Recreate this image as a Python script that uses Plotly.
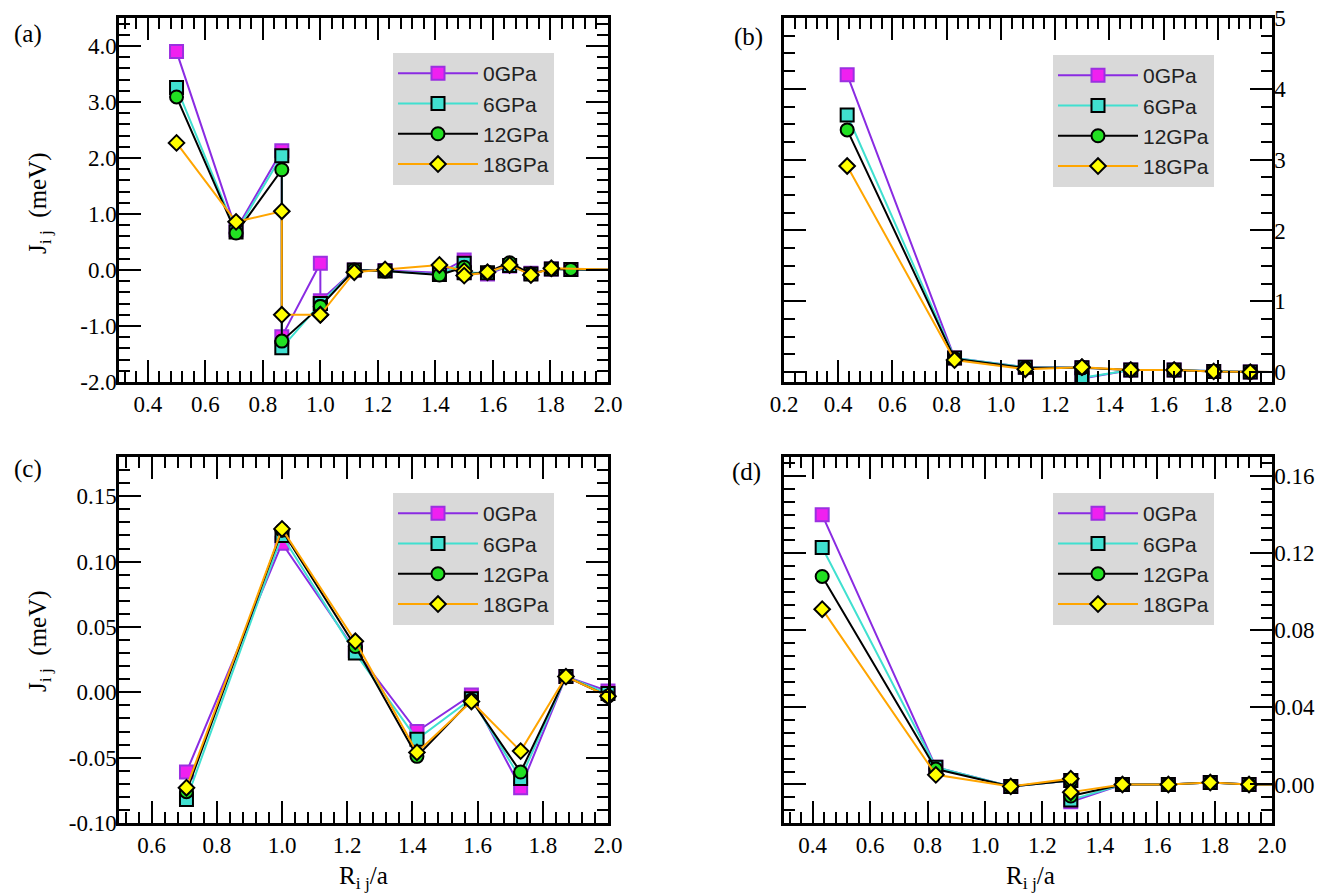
import plotly.graph_objects as go

W, H = 1331, 894

series_names = ["0GPa", "6GPa", "12GPa", "18GPa"]

# ---------------- data ----------------
# panel (a)
xa = [0.5, 0.707, 0.866, 0.866, 1.0, 1.0, 1.118, 1.225, 1.414, 1.5, 1.5,
      1.581, 1.658, 1.732, 1.803, 1.871, 2.06]
a_0GPa = [3.90, 0.72, 2.13, -1.19, 0.12, -0.55, 0.00, -0.01, -0.05, 0.18, -0.04,
          -0.07, 0.07, -0.06, 0.02, 0.01, 0.0]
a_6GPa = [3.26, 0.68, 2.04, -1.39, -0.60, -0.60, 0.00, -0.02, -0.08, 0.12, -0.05,
          -0.05, 0.08, -0.07, 0.02, 0.01, 0.0]
a_12GPa = [3.09, 0.66, 1.79, -1.27, -0.65, -0.65, 0.00, -0.02, -0.09, 0.05, -0.08,
           -0.04, 0.13, -0.07, 0.02, 0.01, 0.0]
a_18GPa = [2.27, 0.86, 1.05, -0.80, -0.80, -0.80, -0.04, 0.01, 0.09, -0.02, -0.10,
           -0.04, 0.09, -0.09, 0.03, None, 0.0]

# panel (b)
xb = [0.433, 0.829, 1.090, 1.299, 1.299, 1.479, 1.639, 1.785, 1.920, 2.06]
b_0GPa = [4.20, 0.20, 0.07, 0.06, -0.09, 0.03, 0.03, 0.01, 0.00, 0.0]
b_6GPa = [3.63, 0.20, 0.07, 0.06, -0.08, 0.03, 0.03, 0.01, 0.00, 0.0]
b_12GPa = [3.42, 0.19, 0.06, 0.06, 0.06, 0.03, 0.03, 0.01, 0.00, 0.0]
b_18GPa = [2.91, 0.17, 0.04, 0.07, 0.07, 0.03, 0.03, 0.01, 0.00, 0.0]

# panel (c)
xc = [0.707, 1.0, 1.225, 1.414, 1.581, 1.732, 1.871, 2.0]
c_0GPa = [-0.061, 0.114, 0.032, -0.030, -0.002, -0.073, 0.012, 0.001]
c_6GPa = [-0.082, 0.120, 0.030, -0.036, -0.005, -0.066, 0.012, -0.001]
c_12GPa = [-0.076, 0.124, 0.035, -0.049, -0.006, -0.061, 0.012, -0.003]
c_18GPa = [-0.073, 0.125, 0.039, -0.046, -0.007, -0.045, 0.012, -0.003]

# panel (d)
xd = [0.433, 0.829, 1.090, 1.299, 1.299, 1.479, 1.639, 1.785, 1.920, 2.06]
d_0GPa = [0.140, 0.009, -0.001, 0.002, -0.009, 0.000, 0.000, 0.001, 0.000, 0.0]
d_6GPa = [0.123, 0.009, -0.001, 0.002, -0.008, 0.000, 0.000, 0.001, 0.000, 0.0]
d_12GPa = [0.108, 0.008, -0.001, 0.002, -0.006, 0.000, 0.000, 0.001, 0.000, 0.0]
d_18GPa = [0.091, 0.005, -0.001, 0.003, -0.004, 0.000, 0.000, 0.001, 0.000, 0.0]

# tick labels
xa_tickvals = [0.4, 0.6, 0.8, 1.0, 1.2, 1.4, 1.6, 1.8, 2.0]
xa_ticktext = ["0.4", "0.6", "0.8", "1.0", "1.2", "1.4", "1.6", "1.8", "2.0"]
ya_tickvals = [-2, -1, 0, 1, 2, 3, 4]
ya_ticktext = ["-2.0", "-1.0", "0.0", "1.0", "2.0", "3.0", "4.0"]
xb_tickvals = [0.2, 0.4, 0.6, 0.8, 1.0, 1.2, 1.4, 1.6, 1.8, 2.0]
xb_ticktext = ["0.2", "0.4", "0.6", "0.8", "1.0", "1.2", "1.4", "1.6", "1.8", "2.0"]
yb_tickvals = [0, 1, 2, 3, 4, 5]
yb_ticktext = ["0", "1", "2", "3", "4", "5"]
xc_tickvals = [0.6, 0.8, 1.0, 1.2, 1.4, 1.6, 1.8, 2.0]
xc_ticktext = ["0.6", "0.8", "1.0", "1.2", "1.4", "1.6", "1.8", "2.0"]
yc_tickvals = [-0.10, -0.05, 0.0, 0.05, 0.10, 0.15]
yc_ticktext = ["-0.10", "-0.05", "0.00", "0.05", "0.10", "0.15"]
xd_tickvals = xa_tickvals
xd_ticktext = xa_ticktext
yd_tickvals = [0.0, 0.04, 0.08, 0.12, 0.16]
yd_ticktext = ["0.00", "0.04", "0.08", "0.12", "0.16"]

# ---------------- styles ----------------
line_colors = ["#8a2be2", "#40e0d0", "#000000", "#ffa500"]
fill_colors = ["#f020f0", "#40e0d0", "#22e022", "#ffff00"]
edge_colors = ["#9b30e0", "#000000", "#000000", "#000000"]
symbols = ["square", "square", "circle", "diamond"]
sizes = [13, 13, 13, 12]

panels = [
    (xa, [a_0GPa, a_6GPa, a_12GPa, a_18GPa], "x", "y", "legend", True),
    (xb, [b_0GPa, b_6GPa, b_12GPa, b_18GPa], "x2", "y2", "legend2", True),
    (xc, [c_0GPa, c_6GPa, c_12GPa, c_18GPa], "x3", "y3", "legend3", False),
    (xd, [d_0GPa, d_6GPa, d_12GPa, d_18GPa], "x4", "y4", "legend4", True),
]

fig = go.Figure()
for xs, ys_list, xr, yr, lg, clip in panels:
    for i, ys in enumerate(ys_list):
        fig.add_trace(go.Scatter(
            x=xs, y=ys, xaxis=xr, yaxis=yr, legend=lg,
            name=series_names[i], mode="lines+markers", connectgaps=True,
            cliponaxis=clip,
            line=dict(color=line_colors[i], width=2),
            marker=dict(symbol=symbols[i], size=sizes[i], color=fill_colors[i],
                        line=dict(color=edge_colors[i], width=2)),
        ))

SERIF = "Liberation Serif"
SANS = "Liberation Sans"


def px_x(p):
    return p / W


def px_y(p):
    return 1 - p / H


def axis(domain, rng, tv, tt, minor_dtick, standoff, **kw):
    d = dict(domain=domain, range=rng, tickmode="array", tickvals=tv, ticktext=tt,
             showline=True, linecolor="black", linewidth=2.5, mirror="ticks",
             ticks="inside", ticklen=22, tickwidth=2, tickcolor="black",
             showgrid=False, zeroline=False, automargin=False,
             ticklabelposition="outside", ticklabelstandoff=standoff,
             tickfont=dict(family=SERIF, size=23, color="black"),
             minor=dict(tickmode="linear", tick0=0, dtick=minor_dtick, ticks="inside",
                        ticklen=11, tickwidth=2, tickcolor="black", showgrid=False))
    d.update(kw)
    return d


XL = [px_x(119), px_x(608)]
XR = [px_x(784), px_x(1272)]
YT = [px_y(382), px_y(18)]
YB = [px_y(823), px_y(457)]

SX = 0    # x tick label standoff
SY = -5   # y tick label standoff

leg_common = dict(xanchor="left", yanchor="top", bgcolor="#d9d9d9", borderwidth=0,
                  font=dict(family=SANS, size=21, color="#222222"), itemwidth=80,
                  tracegroupgap=0)

fig.update_layout(
    width=W, height=H, margin=dict(l=0, r=0, t=0, b=0),
    paper_bgcolor="white", plot_bgcolor="white",
    xaxis=axis(XL, [0.3, 2.0], xa_tickvals, xa_ticktext, 0.04, SX, anchor="y"),
    yaxis=axis(YT, [-2.0, 4.5], ya_tickvals, ya_ticktext, 0.2, SY, anchor="x"),
    xaxis2=axis(XR, [0.2, 2.0], xb_tickvals, xb_ticktext, 0.04, SX, anchor="y2"),
    yaxis2=axis(YT, [-0.14, 5.0], yb_tickvals, yb_ticktext, 0.25, SY, anchor="x2", side="right"),
    xaxis3=axis(XL, [0.5, 2.0], xc_tickvals, xc_ticktext, 0.04, SX, anchor="y3"),
    yaxis3=axis(YB, [-0.10, 0.18], yc_tickvals, yc_ticktext, 0.01, SY, anchor="x3"),
    xaxis4=axis(XR, [0.3, 2.0], xd_tickvals, xd_ticktext, 0.04, SX, anchor="y4"),
    yaxis4=axis(YB, [-0.02, 0.17], yd_tickvals, yd_ticktext, 0.04 / 6, SY, anchor="x4", side="right"),
    legend=dict(x=px_x(393), y=px_y(53), **leg_common),
    legend2=dict(x=px_x(1053), y=px_y(55), **leg_common),
    legend3=dict(x=px_x(393), y=px_y(493), **leg_common),
    legend4=dict(x=px_x(1053), y=px_y(493), **leg_common),
)

label_font = dict(family=SERIF, size=25, color="black")
title_font = dict(family=SERIF, size=25, color="black")
annotations = [
    dict(text="(a)", x=px_x(28), y=px_y(34), font=label_font),
    dict(text="(b)", x=px_x(749), y=px_y(37), font=label_font),
    dict(text="(c)", x=px_x(28), y=px_y(469), font=label_font),
    dict(text="(d)", x=px_x(746), y=px_y(472), font=label_font),
    dict(text="J<sub>i j</sub>  (meV)", x=px_x(39), y=px_y(203), textangle=-90, font=title_font),
    dict(text="J<sub>i j</sub>  (meV)", x=px_x(39), y=px_y(641), textangle=-90, font=title_font),
    dict(text="R<sub>i j</sub>/a", x=px_x(363), y=px_y(877), font=title_font),
    dict(text="R<sub>i j</sub>/a", x=px_x(1030), y=px_y(877), font=title_font),
]
for a in annotations:
    fig.add_annotation(xref="paper", yref="paper", showarrow=False,
                       xanchor="center", yanchor="middle", **a)

fig.write_html("out.html")
